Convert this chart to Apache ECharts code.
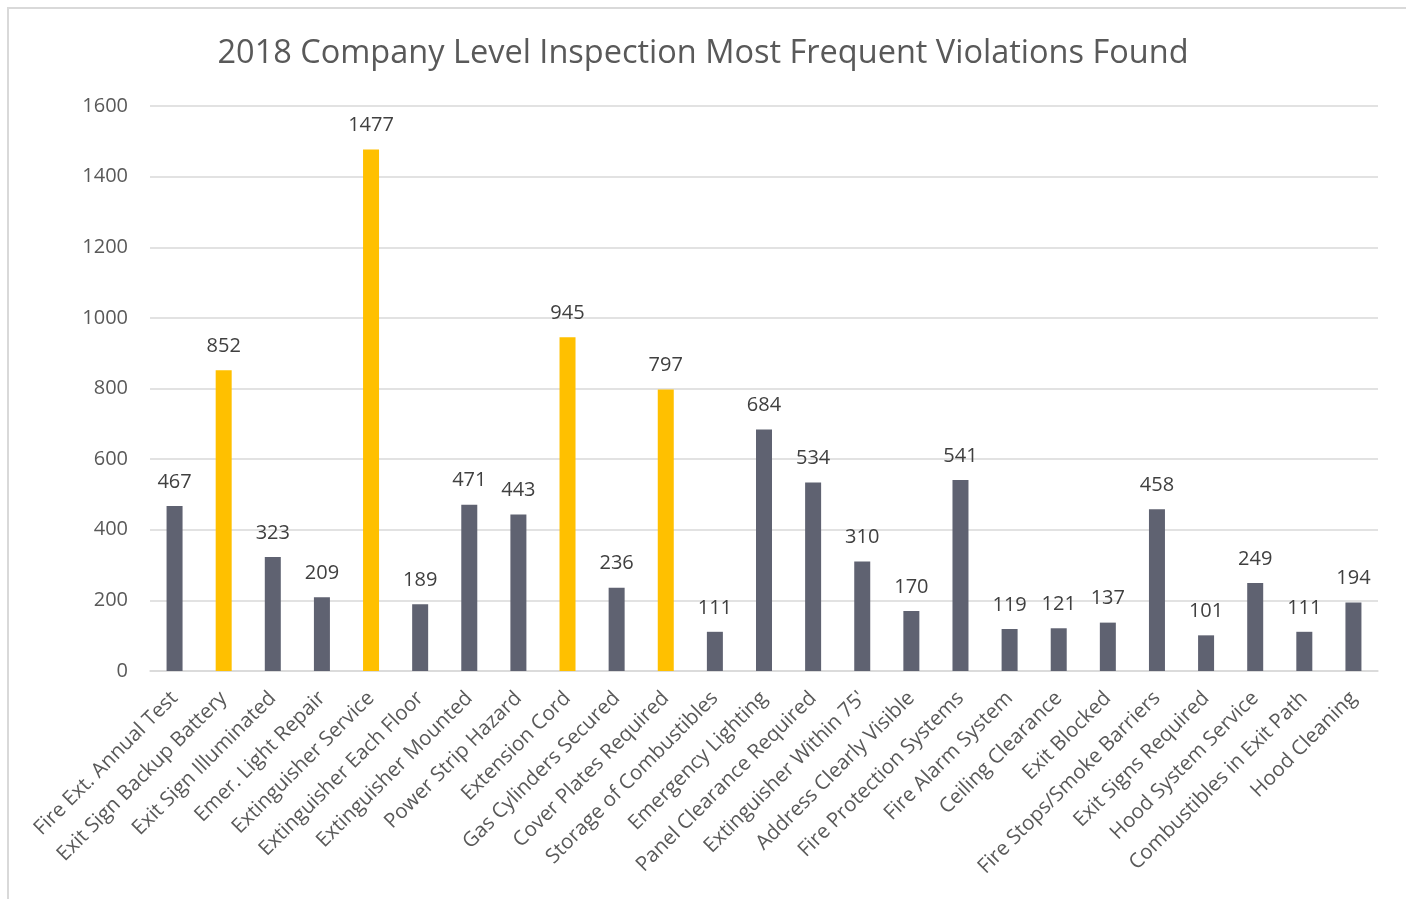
<!doctype html>
<html lang="en">
<head>
    <meta charset="UTF-8">
    <title>2018 Company Level Inspection Most Frequent Violations Found</title>
    <script type="text/javascript" src="https://cdn.jsdelivr.net/npm/echarts@6/dist/echarts.min.js"></script>
    <style>
        html, body { margin: 0; padding: 0; background: #fff; }
        #frame { position: absolute; left: 7px; top: 7px; width: 1420px; height: 920px; border: 2px solid #d9d9d9; box-sizing: border-box; }
        #main { position: absolute; left: 0; top: 0; width: 1406px; height: 899px; }
    </style>
</head>
<body>
<div id="frame"></div>
<div id="main"></div>
<script type="text/javascript">
    // categories and counts
    var categories = ['Fire Ext. Annual Test', 'Exit Sign Backup Battery', 'Exit Sign Illuminated', 'Emer. Light Repair',
        'Extinguisher Service', 'Extinguisher Each Floor', 'Extinguisher Mounted', 'Power Strip Hazard', 'Extension Cord',
        'Gas Cylinders Secured', 'Cover Plates Required', 'Storage of Combustibles', 'Emergency Lighting',
        'Panel Clearance Required', "Extinguisher Within 75'", 'Address Clearly Visible', 'Fire Protection Systems',
        'Fire Alarm System', 'Ceiling Clearance', 'Exit Blocked', 'Fire Stops/Smoke Barriers', 'Exit Signs Required',
        'Hood System Service', 'Combustibles in Exit Path', 'Hood Cleaning'];
    var counts = [467, 852, 323, 209, 1477, 189, 471, 443, 945, 236, 797, 111, 684, 534, 310, 170, 541, 119, 121, 137, 458, 101, 249, 111, 194];
    // the ones drawn in yellow
    var highlighted = ['Exit Sign Backup Battery', 'Extinguisher Service', 'Extension Cord', 'Cover Plates Required'];

    var myChart = echarts.init(document.getElementById('main'));

    var barData = counts.map(function (v, i) {
        return {
            value: v,
            itemStyle: { color: highlighted.indexOf(categories[i]) >= 0 ? '#ffc000' : '#5f6271' }
        };
    });

    var option = {
        animation: false,
        textStyle: { fontFamily: 'Open Sans' },
        title: {
            text: '2018 Company Level Inspection Most Frequent Violations Found',
            left: 'center',
            top: 32,
            textStyle: { fontSize: 32.5, fontWeight: 'normal', color: '#595959', fontFamily: 'Open Sans' }
        },
        grid: { left: 150, right: 28, top: 106, bottom: 228 },
        xAxis: {
            type: 'category',
            data: categories,
            axisLine: { lineStyle: { color: '#d9d9d9', width: 1.5 } },
            axisTick: { show: false },
            axisLabel: { interval: 0, rotate: 45, margin: 24, fontSize: 20.5, color: '#595959' }
        },
        yAxis: {
            type: 'value',
            min: 0,
            max: 1600,
            interval: 200,
            axisLine: { show: false },
            axisTick: { show: false },
            axisLabel: {
                margin: 22, fontSize: 20, color: '#595959',
                formatter: function (v) { return String(v); }
            },
            splitLine: { lineStyle: { color: '#d9d9d9', width: 1.5 } }
        },
        series: [{
            type: 'bar',
            data: barData,
            barWidth: 16,
            label: { show: true, position: 'top', distance: 14, fontSize: 20, color: '#404040' }
        }]
    };

    myChart.setOption(option);
</script>
</body>
</html>
